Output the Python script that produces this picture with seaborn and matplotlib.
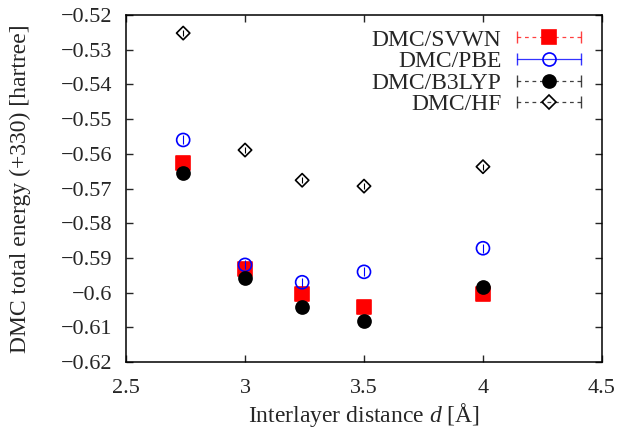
import numpy as np
import pandas as pd
import matplotlib
matplotlib.use("Agg")
import matplotlib.pyplot as plt
import seaborn as sns
from matplotlib.lines import Line2D
from matplotlib.legend_handler import HandlerLine2D
from matplotlib.ticker import FuncFormatter, MultipleLocator

# Data
distance = [2.74, 3.0, 3.24, 3.5, 4.0]
svwn = [-0.5627, -0.5933, -0.6004, -0.6042, -0.6004]
pbe = [-0.5560, -0.5920, -0.5970, -0.5940, -0.5872]
b3lyp = [-0.5654, -0.5959, -0.6042, -0.6081, -0.5985]
hf = [-0.5252, -0.5589, -0.5676, -0.5693, -0.5637]
svwn_err = [0.0008, 0.0008, 0.0008, 0.0008, 0.0008]
pbe_err = [0.0013, 0.0013, 0.0013, 0.0013, 0.0013]
b3lyp_err = [0.0008, 0.0008, 0.0008, 0.0008, 0.0008]
hf_err = [0.0009, 0.0009, 0.0009, 0.0009, 0.0009]
labels = ["DMC/SVWN", "DMC/PBE", "DMC/B3LYP", "DMC/HF"]

sns.set_style("ticks")
plt.rcParams["font.family"] = ["Liberation Serif", "DejaVu Serif"]
plt.rcParams["mathtext.fontset"] = "custom"
plt.rcParams["mathtext.rm"] = "Liberation Serif"
plt.rcParams["mathtext.it"] = "Liberation Serif:italic"
plt.rcParams["font.size"] = 17

fig = plt.figure(figsize=(6.18, 4.3), dpi=100)
ax = fig.add_axes([0.204, 0.158, 0.770, 0.807])

series = [
    (labels[0], svwn, svwn_err, "s", "red", "red", "--"),
    (labels[1], pbe, pbe_err, "o", "blue", "none", "-"),
    (labels[2], b3lyp, b3lyp_err, "o", "black", "black", "--"),
    (labels[3], hf, hf_err, "D", "black", "none", "--"),
]
sizes = {"s": 88, "o": 88, "D": 46}

handles = []
hmap = {}
for i, (name, vals, err, mk, col, fc, ls) in enumerate(series):
    df = pd.DataFrame({"d": distance, "E": vals})
    ax.errorbar(df["d"], df["E"], yerr=err, fmt="none", ecolor=col,
                elinewidth=0.8, capsize=0, zorder=2 + i)
    sns.scatterplot(data=df, x="d", y="E", ax=ax, marker=mk, s=sizes[mk],
                    color=col, facecolor=fc, edgecolor=col, linewidth=1.2,
                    legend=False, zorder=2 + i)
    bar = Line2D([], [], color=col, ls=ls, lw=0.9, marker="|",
                 markersize=9, markeredgewidth=1.0, alpha=0.75 if ls == "--" else 0.8)
    if ls == "--":
        bar.set_dashes((3, 3))
    dot = Line2D([], [], ls="none", marker=mk, markersize=np.sqrt(sizes[mk]),
                 markerfacecolor=fc, markeredgecolor=col, markeredgewidth=1.2)
    handles.append((bar, dot))
    hmap[bar] = HandlerLine2D(numpoints=2, marker_pad=0)

ax.set_xlim(2.5, 4.5)
ax.set_ylim(-0.62, -0.52)
ax.xaxis.set_major_locator(MultipleLocator(0.5))
ax.yaxis.set_major_locator(MultipleLocator(0.01))
fmt = FuncFormatter(lambda v, p: ("%g" % round(v, 4)).replace("-", "\u2212"))
ax.xaxis.set_major_formatter(fmt)
ax.yaxis.set_major_formatter(fmt)
ax.tick_params(direction="in", length=5, width=1, top=True, right=True,
               labelsize=16)
ax.tick_params(axis="x", pad=12.5)
ax.tick_params(axis="y", pad=10)
for sp in ax.spines.values():
    sp.set_linewidth(1.1)
    sp.set_color("black")

ax.set_xlabel("Interlayer distance $d$ [Å]", fontsize=17, labelpad=2)
ax.set_ylabel("DMC total energy (+330) [hartree]", fontsize=17)
ax.yaxis.set_label_coords(-0.2, 0.5)

ax.legend(handles, labels, handler_map=hmap, loc="upper right",
          bbox_to_anchor=(0.985, 1.0), markerfirst=False, frameon=False,
          handlelength=2.7, handletextpad=0.65, labelspacing=0.0,
          fontsize=17, borderaxespad=0.2)

fig.savefig("out.png", dpi=100)
